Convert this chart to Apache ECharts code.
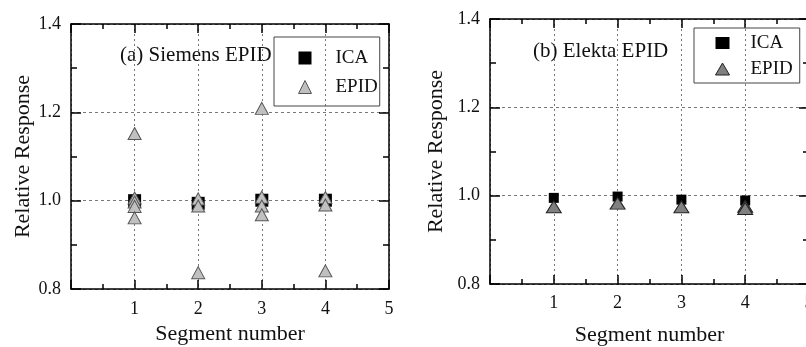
<!DOCTYPE html>
<html>
<head>
<meta charset="utf-8">
<script src="https://cdn.jsdelivr.net/npm/echarts@6/dist/echarts.min.js"></script>
<style>
  html, body { margin: 0; padding: 0; background: #fff; }
  #chart { width: 806px; height: 347px; }
</style>
</head>
<body>
<div id="chart"></div>
<script>
// segment numbers on the x axis
const segments = [1, 2, 3, 4]
const xTicks = [1, 2, 3, 4, 5]
const yTicks = [0.8, 1.0, 1.2, 1.4]

// (a) Siemens EPID
const siemensIca = [1.000, 0.994, 1.001, 1.001]
const siemensEpid = [
  [1.152, 1.006, 0.997, 0.987, 0.961],
  [1.004, 0.988, 0.837],
  [1.209, 1.008, 0.988, 0.968],
  [1.007, 0.990, 0.841]
]

// (b) Elekta EPID
const elektaIca = [0.995, 0.998, 0.991, 0.989]
const elektaEpid = [
  [0.975],
  [0.983],
  [0.975],
  [0.976, 0.971]
]

const serif = "'Liberation Serif', 'Times New Roman', serif"
const ink = '#111'

function pairs(xs, ys) {
  return xs.map((x, i) => [x, ys[i]])
}
function groupPairs(xs, groups) {
  let out = []
  groups.forEach((g, i) => g.forEach(v => out.push([xs[i], v])))
  return out
}

function xAxes(grid, gap, margin) {
  let base = {
    gridIndex: grid, type: 'value', min: 0, max: 5, interval: 1,
    axisLine: { show: true, onZero: false, lineStyle: { color: '#000', width: 1.5 } },
    axisTick: { show: true, inside: true, length: 9, lineStyle: { color: '#000', width: 1.5 } },
    minorTick: { show: true, splitNumber: 2, length: 5, lineStyle: { color: '#000', width: 1.5 } },
    minorSplitLine: { show: false }
  }
  return [
    Object.assign({}, base, {
      position: 'bottom',
      name: 'Segment number', nameLocation: 'middle', nameGap: gap,
      nameTextStyle: { fontFamily: serif, fontSize: 22, color: ink },
      axisLabel: {
        margin: margin, fontFamily: serif, fontSize: 18, color: ink,
        formatter: v => (xTicks.indexOf(v) >= 0 ? String(v) : '')
      },
      splitLine: { show: true, lineStyle: { color: '#777', type: [2, 3], width: 1 } }
    }),
    Object.assign({}, base, {
      position: 'top',
      axisLabel: { show: false },
      splitLine: { show: false }
    })
  ]
}

function yAxes(grid, gap) {
  let base = {
    gridIndex: grid, type: 'value', min: 0.8, max: 1.4, interval: 0.2,
    axisLine: { show: true, onZero: false, lineStyle: { color: '#000', width: 1.5 } },
    axisTick: { show: true, inside: true, length: 10, lineStyle: { color: '#000', width: 1.5 } },
    minorTick: { show: true, splitNumber: 2, length: 6, lineStyle: { color: '#000', width: 1.5 } },
    minorSplitLine: { show: false }
  }
  return [
    Object.assign({}, base, {
      position: 'left',
      name: 'Relative Response', nameLocation: 'middle', nameGap: gap,
      nameTextStyle: { fontFamily: serif, fontSize: 22, color: ink },
      axisLabel: {
        margin: 10, fontFamily: serif, fontSize: 18, color: ink,
        formatter: v => (yTicks.some(t => Math.abs(t - v) < 1e-6) ? v.toFixed(1) : '')
      },
      splitLine: { show: true, lineStyle: { color: '#777', type: [3, 3], width: 1 } }
    }),
    Object.assign({}, base, {
      position: 'right',
      axisLabel: { show: false },
      splitLine: { show: false }
    })
  ]
}

let chart = echarts.init(document.getElementById('chart'))

chart.setOption({
  animation: false,
  backgroundColor: '#fff',
  grid: [
    { left: 71, top: 24, width: 318, height: 265, outerBoundsMode: 'none' },
    { left: 490, top: 19, width: 319, height: 265, outerBoundsMode: 'none' }
  ],
  xAxis: xAxes(0, 33, 11).concat(xAxes(1, 40, 10)),
  yAxis: yAxes(0, 35).concat(yAxes(1, 43)),
  legend: [
    {
      orient: 'vertical', left: 274, top: 37,
      padding: [11, 2, 9, 24],
      itemGap: 9, itemWidth: 13, itemHeight: 13,
      borderColor: '#444', borderWidth: 1,
      selectedMode: false,
      textStyle: { fontFamily: serif, fontSize: 19, lineHeight: 20, color: ink, padding: [0, 0, 0, 19] },
      data: [
        { name: 'ICA', icon: 'rect', itemStyle: { color: '#000', borderWidth: 0 } },
        { name: 'EPID', icon: 'triangle', itemStyle: { color: '#c0c0c0', borderColor: '#555', borderWidth: 1 } }
      ]
    },
    {
      orient: 'vertical', left: 694, top: 28,
      padding: [5, 7, 4, 21],
      itemGap: 6, itemWidth: 14, itemHeight: 12,
      borderColor: '#444', borderWidth: 1,
      selectedMode: false,
      textStyle: { fontFamily: serif, fontSize: 19, lineHeight: 20, color: ink, padding: [0, 0, 0, 16] },
      data: [
        { name: 'ICA', icon: 'rect', itemStyle: { color: '#000', borderWidth: 0 } },
        { name: 'EPID', icon: 'triangle', itemStyle: { color: '#808080', borderColor: '#222', borderWidth: 1 } }
      ]
    }
  ],
  graphic: [
    { type: 'text', left: 120, top: 45, style: { text: '(a) Siemens EPID', font: '21px ' + serif, fill: ink } },
    { type: 'text', left: 533, top: 41, style: { text: '(b) Elekta EPID', font: '21px ' + serif, fill: ink } }
  ],
  series: [
    {
      name: 'ICA', type: 'scatter', xAxisIndex: 0, yAxisIndex: 0,
      symbol: 'rect', symbolSize: 13,
      itemStyle: { color: '#000', opacity: 1 },
      data: pairs(segments, siemensIca)
    },
    {
      name: 'EPID', type: 'scatter', xAxisIndex: 0, yAxisIndex: 0,
      symbol: 'triangle', symbolSize: [13, 12],
      itemStyle: { color: '#c0c0c0', borderColor: '#555', borderWidth: 1, opacity: 1 },
      data: groupPairs(segments, siemensEpid)
    },
    {
      name: 'ICA', type: 'scatter', xAxisIndex: 2, yAxisIndex: 2,
      symbol: 'rect', symbolSize: 10,
      itemStyle: { color: '#000', opacity: 1 },
      data: pairs(segments, elektaIca)
    },
    {
      name: 'EPID', type: 'scatter', xAxisIndex: 2, yAxisIndex: 2,
      symbol: 'triangle', symbolSize: [15, 12],
      itemStyle: { color: '#808080', borderColor: '#222', borderWidth: 1, opacity: 1 },
      data: groupPairs(segments, elektaEpid)
    }
  ]
})

window.onresize = function () {
  chart.resize()
}
</script>
</body>
</html>
